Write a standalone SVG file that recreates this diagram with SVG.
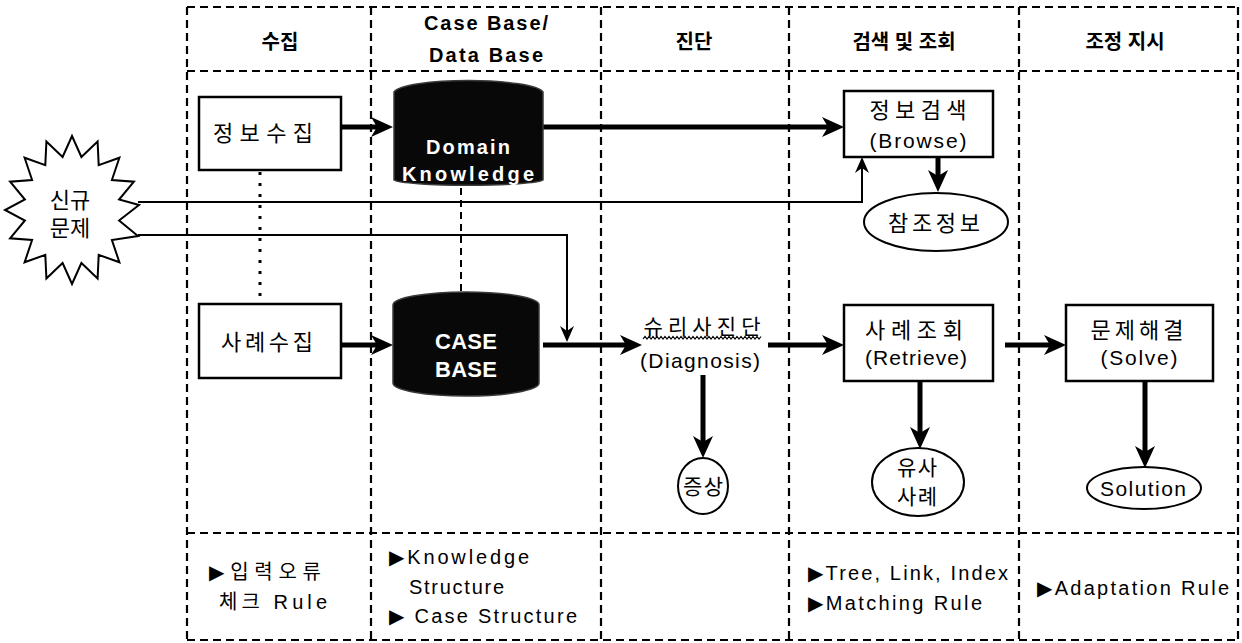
<svg xmlns="http://www.w3.org/2000/svg" width="1242" height="643" viewBox="0 0 1242 643">
  <style>
    .grid { stroke: #000; stroke-width: 2.2; stroke-dasharray: 8 5; fill: none; }
    .box { fill: #fff; stroke: #000; stroke-width: 2.5; }
    .oval { fill: #fff; stroke: #000; stroke-width: 2; }
    .cyl { fill: #080808; stroke: #3a3a3a; stroke-width: 1.5; }
    .thick { stroke: #000; stroke-width: 5; fill: none; marker-end: url(#bigHead); }
    .thin { stroke: #000; stroke-width: 2; fill: none; marker-end: url(#smallHead); }
    .txt { font-family: "Liberation Sans", "Noto Sans CJK KR", sans-serif; fill: #000; dominant-baseline: central; text-anchor: middle; }
    .hd { font-size: 20px; font-weight: bold; }
    .lbl { font-size: 21px; }
    .big { font-size: 22px; }
    .cyltxt { font-family: "Liberation Sans", "DejaVu Sans", sans-serif; font-size: 20px; font-weight: bold; fill: #fff; dominant-baseline: central; text-anchor: middle; }
    .note { font-family: "Liberation Sans", "DejaVu Sans", "Noto Sans CJK KR", sans-serif; font-size: 20px; fill: #000; dominant-baseline: central; }
  </style>
  <defs>
    <marker id="bigHead" viewBox="0 0 22 20" refX="14" refY="10" markerWidth="22" markerHeight="20" markerUnits="userSpaceOnUse" orient="auto">
      <path d="M0,0 L22,10 L0,20 L6,10 Z" fill="#000"/>
    </marker>
    <marker id="smallHead" viewBox="0 0 16 14" refX="14" refY="7" markerWidth="16" markerHeight="14" markerUnits="userSpaceOnUse" orient="auto">
      <path d="M0,0 L16,7 L0,14 L5,7 Z" fill="#000"/>
    </marker>
  </defs>
  <rect width="1242" height="643" fill="#fff"/>

  <!-- swim-lane grid -->
  <g id="grid">
    <line class="grid" x1="187" y1="7" x2="1238" y2="7"/>
    <line class="grid" x1="187" y1="71" x2="1238" y2="71"/>
    <line class="grid" x1="187" y1="533" x2="1238" y2="533"/>
    <line class="grid" x1="187" y1="640" x2="1238" y2="640"/>
    <line class="grid" x1="187" y1="7" x2="187" y2="640"/>
    <line class="grid" x1="371" y1="7" x2="371" y2="640"/>
    <line class="grid" x1="601" y1="7" x2="601" y2="640"/>
    <line class="grid" x1="789" y1="7" x2="789" y2="640"/>
    <line class="grid" x1="1019" y1="7" x2="1019" y2="640"/>
    <line class="grid" x1="1238" y1="7" x2="1238" y2="640"/>
  </g>

  <!-- column headers -->
  <g id="headers">
    <text class="txt hd" x="280" y="42">수집</text>
    <text class="txt hd" x="486" y="23" textLength="124" lengthAdjust="spacing">Case Base/</text>
    <text class="txt hd" x="486" y="55" textLength="114" lengthAdjust="spacing">Data Base</text>
    <text class="txt hd" x="694" y="42">진단</text>
    <text class="txt hd" x="904" y="42">검색 및 조회</text>
    <text class="txt hd" x="1125" y="42">조정 지시</text>
  </g>

  <!-- connectors -->
  <g id="connectors">
    <line x1="260" y1="172" x2="260" y2="296" stroke="#000" stroke-width="3" stroke-dasharray="3 8"/>
    <line x1="461" y1="188" x2="461" y2="291" stroke="#000" stroke-width="2" stroke-dasharray="7 5"/>
    <path class="thick" d="M341,127 H385"/>
    <path class="thick" d="M543,127 H836"/>
    <path class="thick" d="M341,345 H385"/>
    <path class="thick" d="M543,345 H634"/>
    <path class="thick" d="M768,345 H836"/>
    <path class="thick" d="M1005,345 H1058"/>
    <path class="thick" d="M938,157 V184"/>
    <path class="thick" d="M703,375 V450"/>
    <path class="thick" d="M920,381 V441"/>
    <path class="thick" d="M1145,381 V460"/>
    <path class="thin" d="M138,202 H862 V159"/>
    <path class="thin" d="M138,235 H567 V340"/>
  </g>

  <!-- new problem burst -->
  <g id="new-problem">
    <polygon fill="#fff" stroke="#000" stroke-width="2" points="72,136 81.4,157 97.6,141.6 98.7,165.1 119.4,157.7 111.9,180 133.9,181.7 119.1,199.5 139,205 119.1,220.5 138,236 111.9,240 119.4,262.3 98.7,254.9 97.6,278.4 81.4,263 72,284 62.6,263 46.4,278.4 45.3,254.9 24.6,262.3 32.1,240 10.1,238.3 24.9,220.5 5,210 24.9,199.5 10.1,181.7 32.1,180 24.6,157.7 45.3,165.1 46.4,141.6 62.6,157"/>
    <text class="txt big" x="70" y="200">신규</text>
    <text class="txt big" x="70" y="228">문제</text>
  </g>

  <g id="info-collect">
    <rect class="box" x="199" y="97" width="142" height="73"/>
    <text class="txt big" x="263" y="133" textLength="100" lengthAdjust="spacing">정보수집</text>
  </g>

  <g id="case-collect">
    <rect class="box" x="199" y="304" width="142" height="74"/>
    <text class="txt big" x="267" y="342" textLength="92" lengthAdjust="spacing">사례수집</text>
  </g>

  <g id="domain-knowledge">
    <path class="cyl" d="M394,92 A75,13 0 0 1 543,92 L543,180 A75,6 0 0 1 394,180 Z"/>
    <text class="cyltxt" x="468" y="147" textLength="84" lengthAdjust="spacing">Domain</text>
    <text class="cyltxt" x="468" y="174" textLength="132" lengthAdjust="spacing">Knowledge</text>
  </g>

  <g id="case-base">
    <path class="cyl" d="M393,305 A73,13 0 0 1 539,305 L539,383 A73,13 0 0 1 393,383 Z"/>
    <text class="cyltxt" x="466" y="341" style="font-size:22px" textLength="62" lengthAdjust="spacing">CASE</text>
    <text class="cyltxt" x="466" y="369" style="font-size:22px" textLength="62" lengthAdjust="spacing">BASE</text>
  </g>

  <g id="diagnosis">
    <text class="txt lbl" x="702" y="326" textLength="117" lengthAdjust="spacing">슈리사진단</text>
    <path d="M643,339 l2,-2.5 l2,2.5 l2,-2.5 l2,2.5 l2,-2.5 l2,2.5 l2,-2.5 l2,2.5 l2,-2.5 l2,2.5 l2,-2.5 l2,2.5 l2,-2.5 l2,2.5 l2,-2.5 l2,2.5 l2,-2.5 l2,2.5 l2,-2.5 l2,2.5 l2,-2.5 l2,2.5 l2,-2.5 l2,2.5 l2,-2.5 l2,2.5 l2,-2.5 l2,2.5 l2,-2.5 l2,2.5 l2,-2.5 l2,2.5 l2,-2.5 l2,2.5 l2,-2.5 l2,2.5 l2,-2.5 l2,2.5 l2,-2.5 l2,2.5 l2,-2.5 l2,2.5 l2,-2.5 l2,2.5 l2,-2.5 l2,2.5 l2,-2.5 l2,2.5 l2,-2.5 l2,2.5 l2,-2.5 l2,2.5 l2,-2.5 l2,2.5 l2,-2.5 l2,2.5 l2,-2.5 l2,2.5 l2,-2.5" fill="none" stroke="#000" stroke-width="1.2"/>
    <text class="txt lbl" x="700" y="360" textLength="120" lengthAdjust="spacing">(Diagnosis)</text>
  </g>

  <g id="symptom">
    <ellipse class="oval" cx="703" cy="486" rx="25" ry="28"/>
    <text class="txt lbl" x="703" y="486" textLength="40" lengthAdjust="spacing">증상</text>
  </g>

  <g id="browse">
    <rect class="box" x="844" y="91" width="149" height="66"/>
    <text class="txt big" x="918" y="110" textLength="97" lengthAdjust="spacing">정보검색</text>
    <text class="txt lbl" x="918" y="140" textLength="97" lengthAdjust="spacing">(Browse)</text>
  </g>

  <g id="reference-info">
    <ellipse class="oval" cx="936" cy="222" rx="72" ry="29"/>
    <text class="txt big" x="934" y="223" textLength="92" lengthAdjust="spacing">참조정보</text>
  </g>

  <g id="retrieve">
    <rect class="box" x="844" y="305" width="149" height="76"/>
    <text class="txt big" x="914" y="330" textLength="98" lengthAdjust="spacing">사례조회</text>
    <text class="txt lbl" x="916" y="357" textLength="102" lengthAdjust="spacing">(Retrieve)</text>
  </g>

  <g id="similar-case">
    <ellipse class="oval" cx="918" cy="482" rx="46" ry="34"/>
    <text class="txt lbl" x="917" y="467" textLength="40" lengthAdjust="spacing">유사</text>
    <text class="txt lbl" x="917" y="496" textLength="40" lengthAdjust="spacing">사례</text>
  </g>

  <g id="solve">
    <rect class="box" x="1066" y="305" width="147" height="76"/>
    <text class="txt big" x="1137" y="330" textLength="93" lengthAdjust="spacing">문제해결</text>
    <text class="txt lbl" x="1139" y="357" textLength="77" lengthAdjust="spacing">(Solve)</text>
  </g>

  <g id="solution">
    <ellipse class="oval" cx="1144" cy="488" rx="57" ry="21"/>
    <text class="txt lbl" x="1143" y="488" textLength="86" lengthAdjust="spacing">Solution</text>
  </g>

  <!-- rule notes, bottom row -->
  <g id="notes">
    <text class="note" x="209" y="572" textLength="112" lengthAdjust="spacing">▶입력오류</text>
    <text class="note" x="219" y="602" textLength="108" lengthAdjust="spacing">체크 Rule</text>
    <text class="note" x="389" y="557" textLength="140" lengthAdjust="spacing">▶Knowledge</text>
    <text class="note" x="409" y="587" textLength="95" lengthAdjust="spacing">Structure</text>
    <text class="note" x="389" y="616" textLength="188" lengthAdjust="spacing">▶ Case Structure</text>
    <text class="note" x="808" y="573" textLength="200" lengthAdjust="spacing">▶Tree, Link, Index</text>
    <text class="note" x="808" y="603" textLength="174" lengthAdjust="spacing">▶Matching Rule</text>
    <text class="note" x="1037" y="588" textLength="192" lengthAdjust="spacing">▶Adaptation Rule</text>
  </g>
</svg>
